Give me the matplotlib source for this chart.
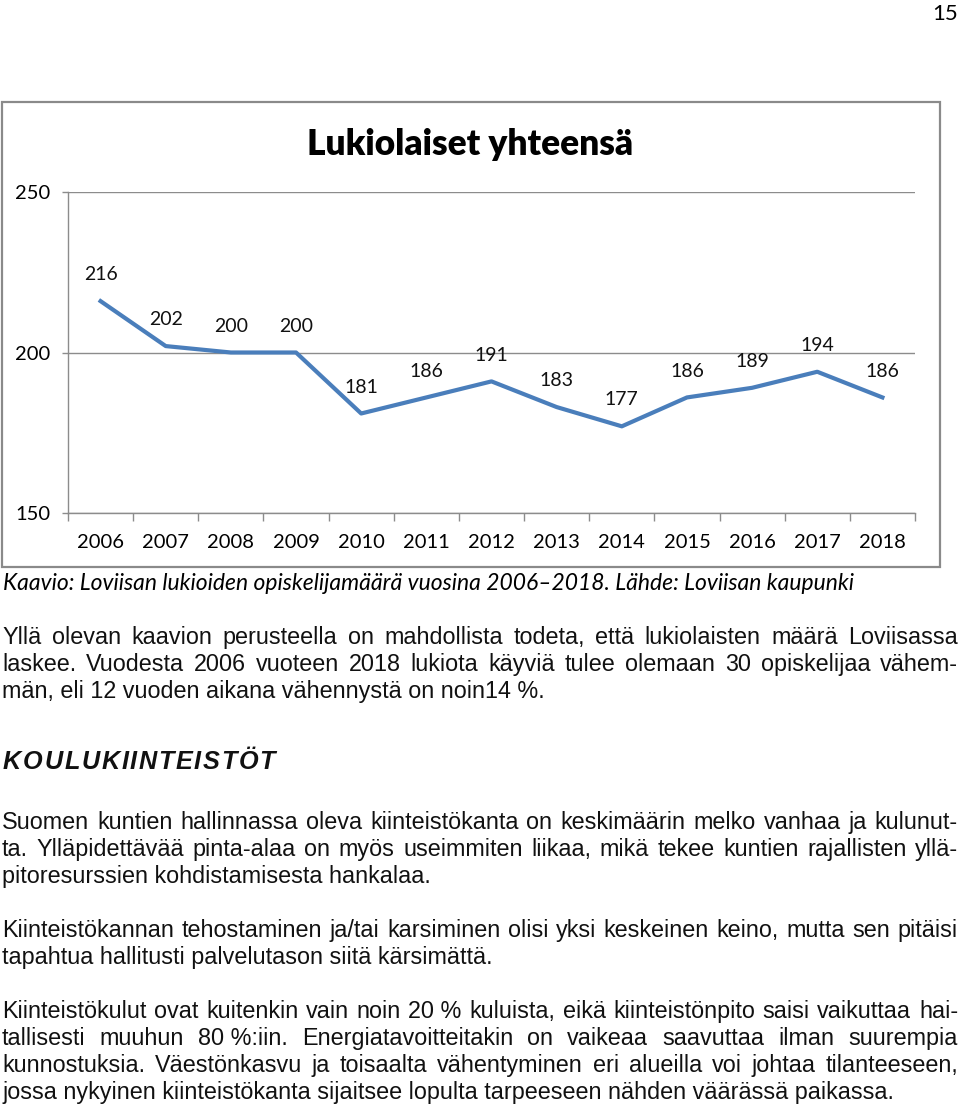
import matplotlib
matplotlib.use("Agg")
import matplotlib.pyplot as plt
from matplotlib.patches import Rectangle

years = ["2006", "2007", "2008", "2009", "2010", "2011", "2012",
         "2013", "2014", "2015", "2016", "2017", "2018"]
students = [216, 202, 200, 200, 181, 186, 191, 183, 177, 186, 189, 194, 186]
y_ticks = [150, 200, 250]

title = "Lukiolaiset yhteensä"
caption = "Kaavio: Loviisan lukioiden opiskelijamäärä vuosina 2006–2018. Lähde: Loviisan kaupunki"
heading = "KOULUKIINTEISTÖT"
# (line, justified)
para1 = [
    ("Yllä olevan kaavion perusteella on mahdollista todeta, että lukiolaisten määrä Loviisassa", True),
    ("laskee. Vuodesta 2006 vuoteen 2018 lukiota käyviä tulee olemaan 30 opiskelijaa vähem-", True),
    ("män, eli 12 vuoden aikana vähennystä on noin14 %.", False),
]
para2 = [
    ("Suomen kuntien hallinnassa oleva kiinteistökanta on keskimäärin melko vanhaa ja kulunut-", True),
    ("ta. Ylläpidettävää pinta-alaa on myös useimmiten liikaa, mikä tekee kuntien rajallisten yllä-", True),
    ("pitoresurssien kohdistamisesta hankalaa.", False),
]
para3 = [
    ("Kiinteistökannan tehostaminen ja/tai karsiminen olisi yksi keskeinen keino, mutta sen pitäisi", True),
    ("tapahtua hallitusti palvelutason siitä kärsimättä.", False),
]
para4 = [
    ("Kiinteistökulut ovat kuitenkin vain noin 20\u00a0% kuluista, eikä kiinteistönpito saisi vaikuttaa hai-", True),
    ("tallisesti muuhun 80\u00a0%:iin. Energiatavoitteitakin on vaikeaa saavuttaa ilman suurempia", True),
    ("kunnostuksia. Väestönkasvu ja toisaalta vähentyminen eri alueilla voi johtaa tilanteeseen,", True),
    ("jossa nykyinen kiinteistökanta sijaitsee lopulta tarpeeseen nähden väärässä paikassa.", False),
]

W, H = 960, 1109
fig = plt.figure(figsize=(W / 100, H / 100), dpi=100)
r = fig.canvas.get_renderer()
chart_font = "Lato"
body_font = "Liberation Sans"
grey = "#8c8c8c"


def fx(px):
    return px / W


def fy(px):
    return 1 - px / H


def fit(t, target):
    w = t.get_window_extent(r).width
    t.set_fontsize(t.get_fontsize() * target / w)


# chart frame
fig.add_artist(Rectangle((fx(2), fy(567)), fx(938), 465 / H, transform=fig.transFigure,
                         fill=False, ec="#8a8a8a", lw=1.6))

ax = fig.add_axes([fx(68), fy(513), fx(847), 321 / H])
x = list(range(len(years)))
ax.plot(x, students, color="#4a7ebb", lw=3, solid_joinstyle="round")
for xi, v in zip(x, students):
    ax.annotate(str(v), (xi, v), xytext=(0, 19), textcoords="offset points",
                ha="center", va="center", fontsize=14, family=chart_font, color="#111")

ax.set_xlim(-0.5, len(years) - 0.5)
ax.set_ylim(150, 250)
ax.set_yticks(y_ticks)
ax.set_yticklabels([str(v) for v in y_ticks], family=chart_font, fontsize=14.5)
ax.set_xticks([i - 0.5 for i in range(len(years) + 1)])
ax.set_xticklabels([])
ax.set_xticks(x, minor=True)
ax.set_xticklabels(years, minor=True, family=chart_font, fontsize=14.5)
ax.tick_params(axis="x", which="major", length=6, color=grey, width=1)
ax.tick_params(axis="x", which="minor", length=0, pad=15)
ax.tick_params(axis="y", length=4.5, color=grey, width=1, pad=8)
ax.grid(axis="y", color=grey, lw=1)
ax.set_axisbelow(True)
for s in ["top", "right"]:
    ax.spines[s].set_visible(False)
for s in ["left", "bottom"]:
    ax.spines[s].set_color(grey)
    ax.spines[s].set_linewidth(1)

t = fig.text(fx(470), fy(145), title, ha="center", va="center", family=chart_font,
             weight="heavy", fontsize=20)
fit(t, 326)

fig.text(fx(958), fy(14), "15", ha="right", va="center", family=chart_font, fontsize=16)

t = fig.text(fx(3), fy(584), caption, ha="left", va="center", family=chart_font,
             style="italic", fontsize=13)
fit(t, 847)

# body text size from the last (unjustified) line
probe = fig.text(0, 0, para4[-1][0], family=body_font, fontsize=14)
fit(probe, 897)
body_size = probe.get_fontsize()
probe.remove()

x0, x1 = 2, 958


def draw_line(text, y, justify):
    base = fy(y + 7)
    if not justify:
        fig.text(fx(x0), base, text, ha="left", va="baseline", family=body_font,
                 fontsize=body_size, color="#111")
        return
    words = text.split(" ")
    arts = [fig.text(0, base, w, ha="left", va="baseline", family=body_font,
                     fontsize=body_size, color="#111") for w in words]
    widths = [a.get_window_extent(r).width for a in arts]
    gap = (x1 - x0 - sum(widths)) / (len(words) - 1)
    pos = x0
    for a, w in zip(arts, widths):
        a.set_x(fx(pos))
        pos += w + gap


for para, y_start in [(para1, 637), (para2, 822), (para3, 930), (para4, 1011)]:
    for i, (line, just) in enumerate(para):
        draw_line(line, y_start + 27 * i, just)

# spaced bold italic heading
chars = [fig.text(0, fy(769), c, ha="left", va="baseline", family=body_font, weight="bold",
                  style="italic", fontsize=body_size * 1.08, color="#111") for c in heading]
cw = [c.get_window_extent(r).width for c in chars]
gap = (275 - 3 - sum(cw)) / (len(chars) - 1)
pos = 3
for c, w in zip(chars, cw):
    c.set_x(fx(pos))
    pos += w + gap

fig.savefig("out.png", dpi=100)
